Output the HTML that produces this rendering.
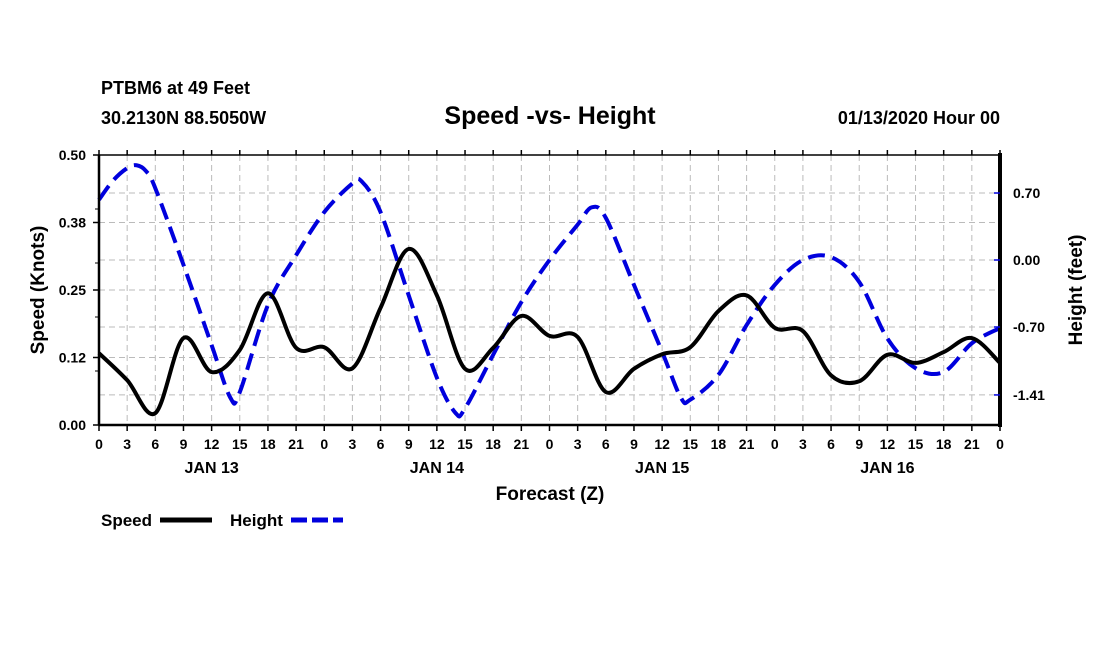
<!DOCTYPE html>
<html><head><meta charset="utf-8"><style>
body{margin:0;background:#fff;}
svg text{font-family:"Liberation Sans",sans-serif;font-weight:bold;fill:#000;}
</style></head><body>
<svg id="chart" width="1100" height="650" viewBox="0 0 1100 650" xmlns="http://www.w3.org/2000/svg">
<rect width="1100" height="650" fill="#fff"/>
<text x="101" y="94" font-size="18">PTBM6 at 49 Feet</text>
<text x="101" y="124" font-size="18">30.2130N 88.5050W</text>
<text x="550" y="124" font-size="25" text-anchor="middle">Speed -vs- Height</text>
<text x="1000" y="124" font-size="18" text-anchor="end">01/13/2020 Hour 00</text>
<g id="grid"></g>
<g id="series"></g>
<g id="axes"></g>
<text x="500" y="500" font-size="19" text-anchor="middle" transform="translate(50,0)">Forecast (Z)</text>
<text transform="translate(44,290) rotate(-90)" font-size="19" text-anchor="middle">Speed (Knots)</text>
<text transform="translate(1082,290) rotate(-90)" font-size="19" text-anchor="middle">Height (feet)</text>
<g>
<text x="101" y="526" font-size="17">Speed</text>
<line x1="160" y1="520" x2="212" y2="520" stroke="#000" stroke-width="5"/>
<text x="230" y="526" font-size="17">Height</text>
<line x1="291" y1="520" x2="343" y2="520" stroke="#0000dd" stroke-width="5" stroke-dasharray="16,5"/>
</g>
</svg>
<script>
const speedHours=[0,3,6,9,12,15,18,21,24,27,30,33,36,39,42,45,48,51,54,57,60,63,66,69,72,75,78,81,84,87,90,93,96];
const speedValues=[0.133,0.083,0.022,0.161,0.098,0.139,0.244,0.143,0.144,0.105,0.217,0.326,0.24,0.104,0.143,0.202,0.165,0.163,0.061,0.104,0.131,0.144,0.211,0.24,0.18,0.174,0.092,0.081,0.13,0.115,0.135,0.161,0.115];
const heightHours=[0,1.5,3,4,5,6,9,12,14,15,18,21,24,27,28,30,33,36,38,39,42,45,48,51,52.5,54,57,60,62,63,66,69,72,75,78,81,84,87,90,93,96];
const heightValues=[0.63,0.83,0.96,0.99,0.93,0.75,-0.05,-0.89,-1.44,-1.38,-0.47,0.05,0.5,0.8,0.82,0.5,-0.37,-1.23,-1.6,-1.55,-0.99,-0.44,0.0,0.37,0.55,0.44,-0.26,-0.96,-1.44,-1.46,-1.2,-0.68,-0.26,0,0.03,-0.23,-0.82,-1.13,-1.17,-0.87,-0.71];
const xTickLabels=["0","3","6","9","12","15","18","21","0","3","6","9","12","15","18","21","0","3","6","9","12","15","18","21","0","3","6","9","12","15","18","21","0"];
const dayLabels=["JAN 13","JAN 14","JAN 15","JAN 16"];
const leftTicks=[0,0.125,0.25,0.375,0.5];
const leftTickLabels=["0.00","0.12","0.25","0.38","0.50"];
const rightTicks=[0.70,0.00,-0.70,-1.41];
const rightTickLabels=["0.70","0.00","-0.70","-1.41"];
const L=99,R=1000,T=155,B=425;
const xs=h=>L+h*(R-L)/96;
const ys=v=>B-v*(B-T)/0.5;
const yh=v=>260-v*95.7;
const NS="http://www.w3.org/2000/svg";
function mk(tag,attrs,parent){const e=document.createElementNS(NS,tag);for(const k in attrs)e.setAttribute(k,attrs[k]);parent.appendChild(e);return e;}
const grid=document.getElementById('grid'),axes=document.getElementById('axes'),series=document.getElementById('series');
for(let i=1;i<32;i++){const l=mk('line',{x1:xs(i*3),x2:xs(i*3),y1:T,y2:B,stroke:'#bbb','stroke-dasharray':'6,4'},grid);

}
leftTicks.slice(1,4).forEach(v=>{const l=mk('line',{x1:L,x2:R,y1:ys(v),y2:ys(v),stroke:'#bbb','stroke-dasharray':'6,4'},grid);

});
rightTicks.forEach(v=>{const l=mk('line',{x1:L,x2:R,y1:yh(v),y2:yh(v),stroke:'#bbb','stroke-dasharray':'6,4'},grid);

});
function smooth(hs,vs,fy){const p=hs.map((h,i)=>[xs(h),fy(vs[i])]);let d='M'+p[0][0]+','+p[0][1];
for(let i=0;i<p.length-1;i++){const p0=p[Math.max(0,i-1)],p1=p[i],p2=p[i+1],p3=p[Math.min(p.length-1,i+2)];
const c1=[p1[0]+(p2[0]-p0[0])/6,p1[1]+(p2[1]-p0[1])/6],c2=[p2[0]-(p3[0]-p1[0])/6,p2[1]-(p3[1]-p1[1])/6];
d+=` C${c1[0]},${c1[1]} ${c2[0]},${c2[1]} ${p2[0]},${p2[1]}`;}return d;}
const hp=mk('path',{d:smooth(heightHours,heightValues,yh),fill:'none',stroke:'#0000dd','stroke-width':4,'stroke-dasharray':'17,8'},series);


const sp=mk('path',{d:smooth(speedHours,speedValues,ys),fill:'none',stroke:'#000','stroke-width':4},series);


const frame=mk('rect',{x:L,y:T,width:R-L,height:B-T,fill:'none',stroke:'#000','stroke-width':1.5},axes);


mk('line',{x1:L,x2:L,y1:T,y2:B,stroke:'#000','stroke-width':2.5},axes);
mk('line',{x1:R,x2:R,y1:T-2,y2:B+2,stroke:'#000','stroke-width':4},axes);
mk('line',{x1:L,x2:R,y1:B,y2:B,stroke:'#000','stroke-width':2.5},axes);
xTickLabels.forEach((t,i)=>{const x=xs(i*3);
mk('line',{x1:x,x2:x,y1:B,y2:B+6,stroke:'#000','stroke-width':1.5},axes);
mk('line',{x1:x,x2:x,y1:T,y2:T-5,stroke:'#000','stroke-width':1.5},axes);
const tx=mk('text',{x:x,y:B+24,'font-size':14,'text-anchor':'middle'},axes);tx.textContent=t;

});
dayLabels.forEach((t,i)=>{const tx=mk('text',{x:xs(12+i*24),y:B+48,'font-size':16,'text-anchor':'middle'},axes);tx.textContent=t;

});
leftTicks.forEach((v,i)=>{mk('line',{x1:L-6,x2:L,y1:ys(v),y2:ys(v),stroke:'#000','stroke-width':1.5},axes);
const tx=mk('text',{x:L-13,y:ys(v)+5,'font-size':14,'text-anchor':'end'},axes);tx.textContent=leftTickLabels[i];

});
[0.1,0.2,0.3,0.4].forEach(v=>mk('line',{x1:L-4,x2:L,y1:ys(v),y2:ys(v),stroke:'#000','stroke-width':1},axes));
rightTicks.forEach((v,i)=>{mk('line',{x1:R-6,x2:R,y1:yh(v),y2:yh(v),stroke:'#0000dd','stroke-width':1.5},axes);
const tx=mk('text',{x:R+13,y:yh(v)+5,'font-size':14},axes);tx.textContent=rightTickLabels[i];

});
</script>
</body></html>
